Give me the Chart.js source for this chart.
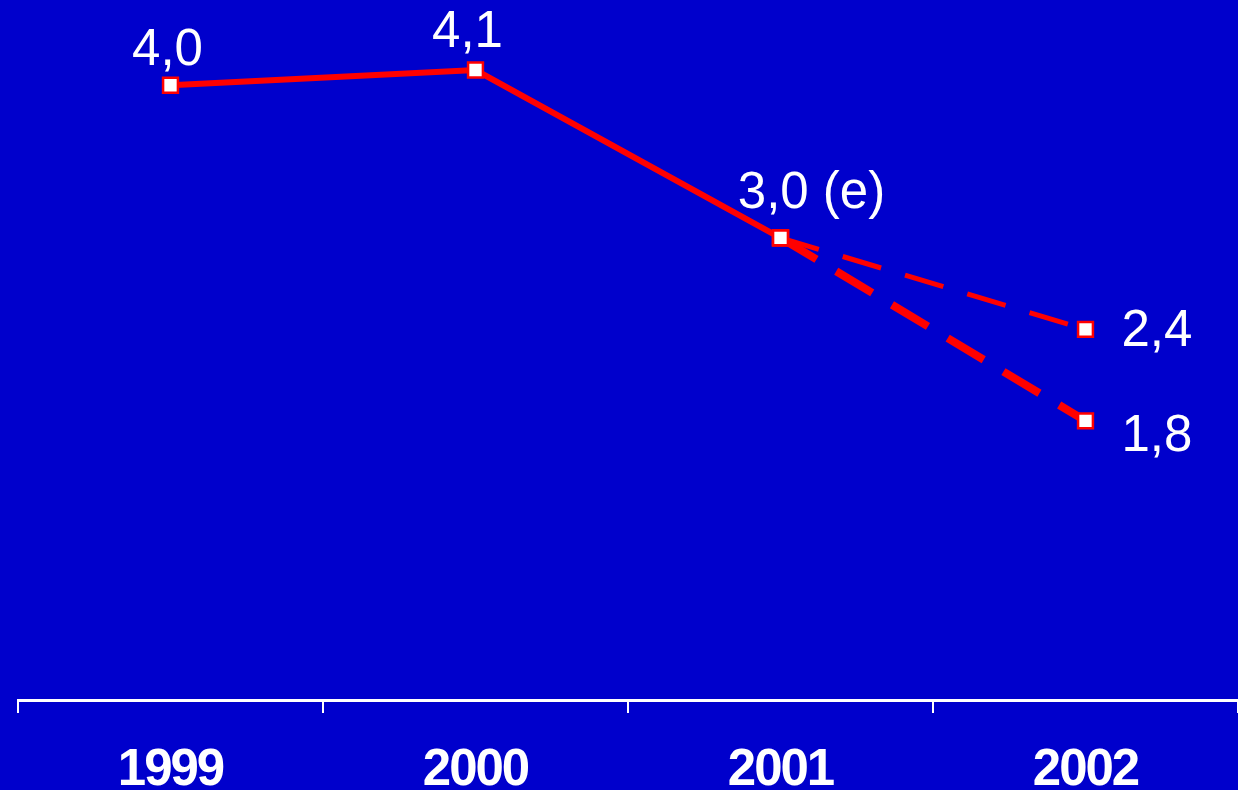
<!DOCTYPE html>
<html>
<head>
<meta charset="utf-8">
<script src="https://cdn.jsdelivr.net/npm/chart.js@4"></script>
<style>
  html, body { margin: 0; padding: 0; background: #0000CC; overflow: hidden; }
  #wrap { width: 1238px; height: 790px; position: relative; }
</style>
</head>
<body>
<div id="wrap"><canvas id="chartGrowth"></canvas></div>
<script>
const years = ['1999', '2000', '2001', '2002'];
const actual = [4.0, 4.1, 3.0, null];
const scenarioHigh = [null, null, 3.0, 2.4];
const scenarioLow = [null, null, 3.0, 1.8];
const estimated = ['2001'];

const colors = {
    bg: '#0000CC',
    line: '#FF0000',
    text: '#FFFFFF'
}

const fmt = v => v.toFixed(1).replace('.', ',');

// where each value label sits relative to its point
const labelSpots = [
    { ds: 0, i: 0, dx: -3, dy: -20, align: 'center', base: 'alphabetic' },
    { ds: 0, i: 1, dx: -8, dy: -23, align: 'center', base: 'alphabetic' },
    { ds: 0, i: 2, dx: 31, dy: -30, align: 'center', base: 'alphabetic' },
    { ds: 1, i: 3, dx: 36, dy: 3, align: 'left', base: 'middle' },
    { ds: 2, i: 3, dx: 36, dy: 16, align: 'left', base: 'middle' }
];

// tighter tracking so the year labels look condensed like the original
const narrowTicks = {
    id: 'narrowTicks',
    beforeDraw(chart) {
        chart.ctx.letterSpacing = '-2px';
    },
    afterDraw(chart) {
        chart.ctx.letterSpacing = '0px';
    }
};

const valueLabels = {
    id: 'valueLabels',
    afterDatasetsDraw(chart) {
        const ctx = chart.ctx;
        ctx.save();
        ctx.letterSpacing = '0px';
        ctx.fillStyle = colors.text;
        ctx.font = '51px "Liberation Sans", Arial, sans-serif';
        labelSpots.forEach(s => {
            const pt = chart.getDatasetMeta(s.ds).data[s.i];
            const v = chart.data.datasets[s.ds].data[s.i];
            let txt = fmt(v);
            if (s.ds === 0 && estimated.includes(years[s.i])) txt += ' (e)';
            ctx.textAlign = s.align;
            ctx.textBaseline = s.base;
            ctx.fillText(txt, pt.x + s.dx, pt.y + s.dy);
        });
        ctx.restore();
    }
};

const pointStyle = {
    pointStyle: 'rect',
    pointRadius: 10.5,
    pointBackgroundColor: '#FFFFFF',
    pointBorderColor: colors.line,
    pointBorderWidth: 2.5,
    clip: false
};

let ctx = document.getElementById('chartGrowth').getContext('2d');
const chartGrowth = new Chart(ctx, {
    type: 'line',
    data: {
        labels: years,
        datasets: [{
            label: 'Actual',
            data: actual,
            borderColor: colors.line,
            borderWidth: 6,
            order: 0,
            ...pointStyle
        }, {
            label: 'High',
            data: scenarioHigh,
            borderColor: colors.line,
            borderWidth: 5,
            borderDash: [40, 25],
            order: 1,
            ...pointStyle
        }, {
            label: 'Low',
            data: scenarioLow,
            borderColor: colors.line,
            borderWidth: 8,
            borderDash: [42, 23],
            order: 2,
            ...pointStyle
        }]
    },
    options: {
        responsive: true,
        maintainAspectRatio: false,
        animation: false,
        layout: {
            autoPadding: false,
            padding: { left: 18, right: 0, top: 9, bottom: 0 }
        },
        plugins: {
            legend: { display: false },
            tooltip: { enabled: false }
        },
        scales: {
            x: {
                offset: true,
                border: { display: true, color: colors.text, width: 3 },
                grid: {
                    display: true,
                    offset: true,
                    drawOnChartArea: false,
                    drawTicks: true,
                    tickLength: 13,
                    color: colors.text,
                    lineWidth: 2
                },
                ticks: {
                    color: colors.text,
                    padding: 36,
                    font: {
                        family: '"Liberation Sans", Arial, sans-serif',
                        size: 51,
                        weight: 'bold',
                        lineHeight: 0.85
                    }
                },
                afterFit(scale) {
                    scale.height = 90;
                    scale.paddingLeft = 0;
                    scale.paddingRight = 0;
                }
            },
            y: {
                display: false,
                min: -0.03,
                max: 4.5
            }
        }
    },
    plugins: [narrowTicks, valueLabels]
});
</script>
</body>
</html>
